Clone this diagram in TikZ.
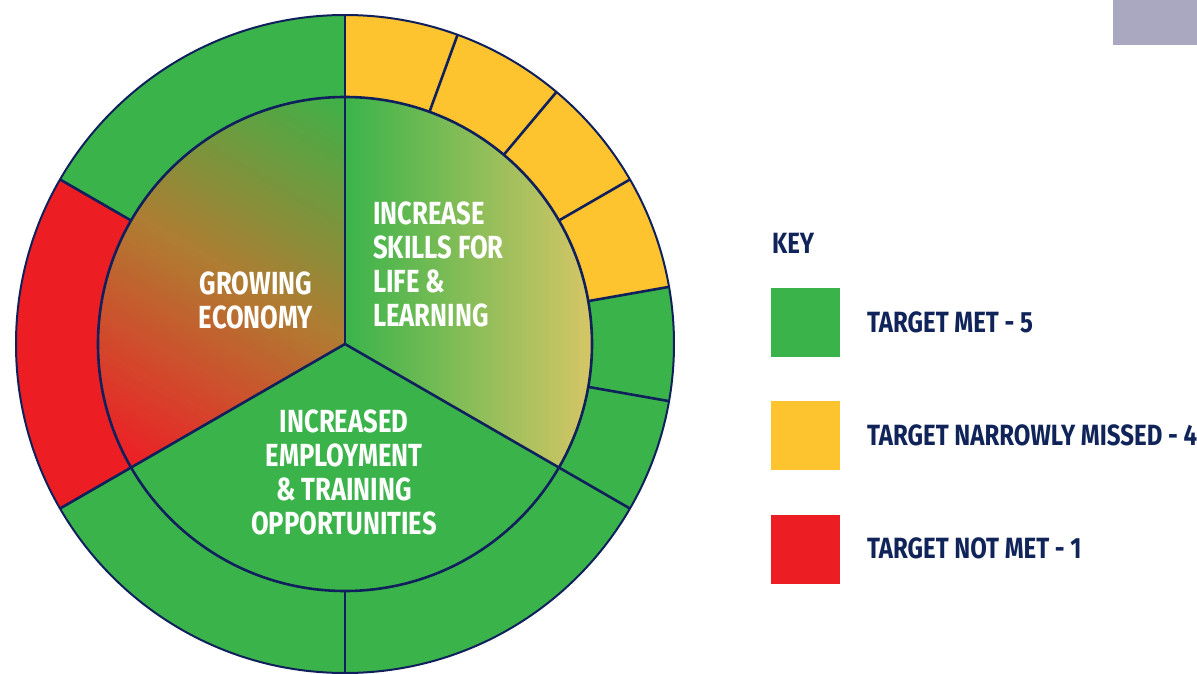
\documentclass[tikz,border=0pt]{standalone}
\usepackage{fontspec}
\newfontfamily\labelfont[FakeStretch=0.8]{Fira Sans}
\newfontfamily\keyfont[FakeStretch=0.82]{Fira Sans}
\definecolor{navy}{RGB}{16,32,92}
\definecolor{segGreen}{RGB}{58,180,74}
\definecolor{segYellow}{RGB}{253,196,47}
\definecolor{segRed}{RGB}{237,29,36}
\definecolor{keyText}{RGB}{16,36,90}
\definecolor{tabGray}{RGB}{169,168,192}
\definecolor{econTop}{RGB}{60,178,72}
\definecolor{econMid}{RGB}{176,124,50}
\definecolor{econBot}{RGB}{238,30,38}
\definecolor{skillMid}{RGB}{150,192,112}
\definecolor{skillRight}{RGB}{236,200,106}
\newcommand\ringsegment[3]{\fill[#3] (#1:\Ri) arc[start angle=#1,end angle=#2,radius=\Ri] -- (#2:\Ro) arc[start angle=#2,end angle=#1,radius=\Ro] -- cycle;}
\begin{document}
\begin{tikzpicture}[x=1pt,y=1pt,
  ring/.style={line width=2.6pt, draw=navy},
  rim/.style={line width=2pt, draw=navy},
  chartlabel/.style={text=white, font=\labelfont\bfseries\fontsize{32}{34}\selectfont, inner sep=0pt},
  keylabel/.style={text=keyText, font=\keyfont\bfseries\fontsize{29.3}{32}\selectfont, inner sep=0pt, anchor=base west},
  keybox/.style={minimum size=69pt, inner sep=0pt, anchor=north west, draw=none}
]
\useasboundingbox (-345,-329) rectangle (852,344);
\def\Ri{247}\def\Ro{329}
% outer ring
\ringsegment{90}{150}{segGreen}
\ringsegment{150}{210}{segRed}
\ringsegment{210}{270}{segGreen}
\ringsegment{270}{330}{segGreen}
\ringsegment{330}{350}{segGreen}
\ringsegment{-10}{10}{segGreen}
\ringsegment{10}{30}{segYellow}
\ringsegment{30}{50}{segYellow}
\ringsegment{50}{70}{segYellow}
\ringsegment{70}{90}{segYellow}
% inner sector: growing economy (diagonal gradient, stripes)
\begin{scope}
  \clip (0,0) -- (90:\Ri) arc[start angle=90,end angle=210,radius=\Ri] -- cycle;
  \foreach \i in {0,...,99}{
    \pgfmathsetmacro\p{-250+5*\i}
    \pgfmathtruncatemacro\pa{max(0,min(100,(\p+2.5+214)/214*100))}
    \pgfmathtruncatemacro\pb{max(0,min(100,(\p+2.5)/214*100))}
    \pgfmathtruncatemacro\up{(\p+2.5)>0}
    \ifnum\up=1 \colorlet{stripe}{econTop!\pb!econMid}\else\colorlet{stripe}{econMid!\pa!econBot}\fi
    \fill[stripe, rotate=-30] (-300,\p) rectangle (300,\p+5.6);
  }
\end{scope}
\fill[segGreen] (0,0) -- (210:\Ri) arc[start angle=210,end angle=330,radius=\Ri] -- cycle;
\shade[left color=segGreen, middle color=skillMid, right color=skillRight]
  (0,0) -- (-30:\Ri) arc[start angle=-30,end angle=90,radius=\Ri] -- cycle;
% lines
\draw[rim] (0,0) circle[radius=\Ro];
\draw[ring] (0,0) circle[radius=\Ri];
\foreach \a in {90,210,330} \draw[ring] (0,0) -- (\a:\Ro);
\foreach \a in {150,270,350,10,30,50,70} \draw[ring] (\a:\Ri) -- (\a:\Ro);
% labels
\node[chartlabel, align=center] (econ) at (-89,44) {GROWING\\ECONOMY};
\node[chartlabel, align=left, anchor=west] (skills) at (28,79.5) {INCREASE\\SKILLS FOR\\LIFE \&\\LEARNING};
\node[chartlabel, align=center] (employ) at (-1,-128.5) {INCREASED\\EMPLOYMENT\\\& TRAINING\\OPPORTUNITIES};
% key
\fill[tabGray] (768,344) rectangle (852,299);
\node[keylabel] (keytitle) at (427,91) {KEY};
\node[keybox, fill=segGreen] (boxMet) at (426,56) {};
\node[keybox, fill=segYellow] (boxNarrow) at (426,-57) {};
\node[keybox, fill=segRed] (boxNot) at (426,-171) {};
\node[keylabel] (txtMet) at (522,12) {TARGET MET - 5};
\node[keylabel] (txtNarrow) at (522,-101) {TARGET NARROWLY MISSED - 4};
\node[keylabel] (txtNot) at (522,-214) {TARGET NOT MET - 1};
\end{tikzpicture}
\end{document}
